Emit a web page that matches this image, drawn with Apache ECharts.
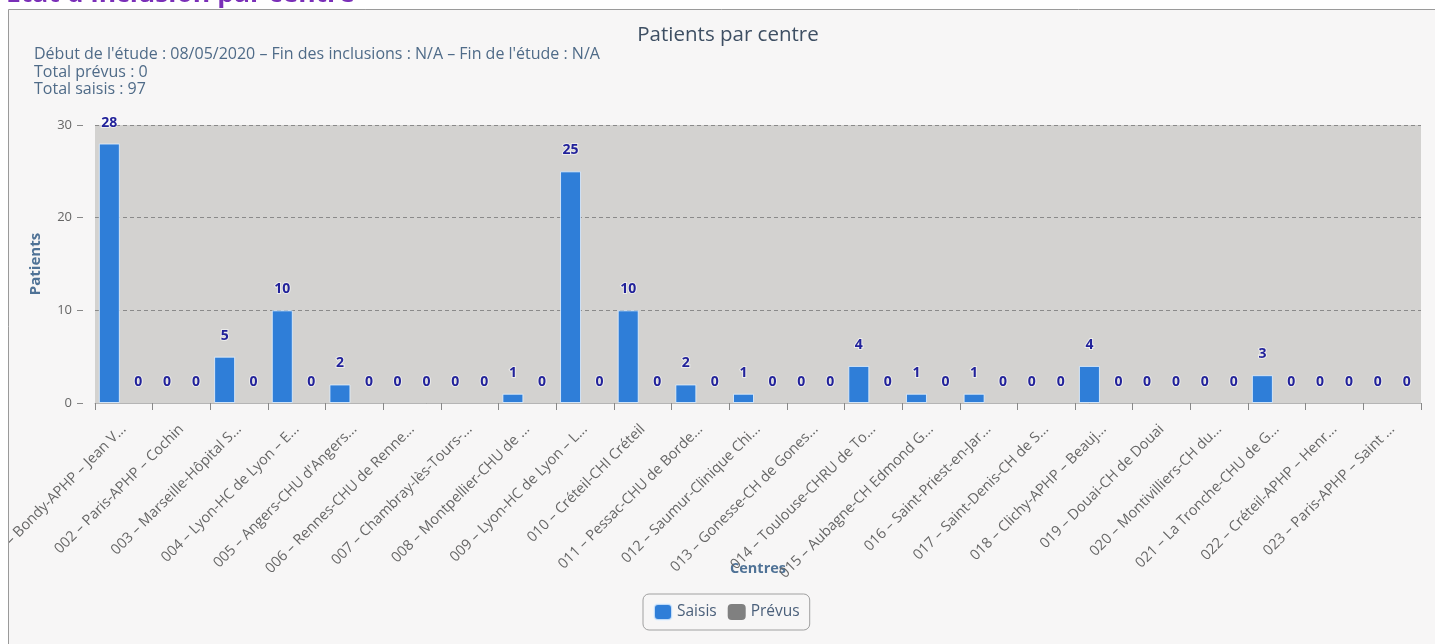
<!DOCTYPE html>
<html>
<head>
<meta charset="utf-8">
<script src="https://cdn.jsdelivr.net/npm/echarts@6/dist/echarts.min.js"></script>
<style>
html,body{margin:0;padding:0;background:#fff;}
#c{width:1435px;height:644px;}
</style>
</head>
<body>
<div id="c"></div>
<script>
const pageHeading = "Etat d'inclusion par centre";
const chartTitle = "Patients par centre";
const infoLines = [
  "Début de l'étude : 08/05/2020 – Fin des inclusions : N/A – Fin de l'étude : N/A",
  "Total prévus : 0",
  "Total saisis : 97"
];
const categories = [
  "001 – Bondy-APHP – Jean V...",
  "002 – Paris-APHP – Cochin",
  "003 – Marseille-Hôpital S...",
  "004 – Lyon-HC de Lyon – E...",
  "005 – Angers-CHU d'Angers...",
  "006 – Rennes-CHU de Renne...",
  "007 – Chambray-lès-Tours-...",
  "008 – Montpellier-CHU de ...",
  "009 – Lyon-HC de Lyon – L...",
  "010 – Créteil-CHI Créteil",
  "011 – Pessac-CHU de Borde...",
  "012 – Saumur-Clinique Chi...",
  "013 – Gonesse-CH de Gones...",
  "014 – Toulouse-CHRU de To...",
  "015 – Aubagne-CH Edmond G...",
  "016 – Saint-Priest-en-Jar...",
  "017 – Saint-Denis-CH de S...",
  "018 – Clichy-APHP – Beauj...",
  "019 – Douai-CH de Douai",
  "020 – Montivilliers-CH du...",
  "021 – La Tronche-CHU de G...",
  "022 – Créteil-APHP – Henr...",
  "023 – Paris-APHP – Saint ..."
];
const saisis = [28, 0, 5, 10, 2, 0, 0, 1, 25, 10, 2, 1, 0, 4, 1, 1, 0, 4, 0, 0, 3, 0, 0];
const prevus = [0, 0, 0, 0, 0, 0, 0, 0, 0, 0, 0, 0, 0, 0, 0, 0, 0, 0, 0, 0, 0, 0, 0];
const yTicks = [0, 10, 20, 30];
const seriesNames = ["Saisis", "Prévus"];
const xName = "Centres";
const yName = "Patients";

const FONT = "'Open Sans', sans-serif";
const chart = echarts.init(document.getElementById('c'), null, {renderer: 'canvas'});

const labelStyle = {
  show: true,
  position: 'top',
  distance: 14,
  color: '#22229a',
  fontWeight: 'bold',
  fontSize: 14,
  fontFamily: FONT,
  textBorderColor: 'rgba(255,255,255,0.55)',
  textBorderWidth: 2
};

// zero-height bars get no border so no stray line is drawn at the baseline
const toItems = arr => arr.map(v => ({value: v, itemStyle: v === 0 ? {borderWidth: 0} : {}}));

chart.setOption({
  backgroundColor: '#f7f6f6',
  animation: false,
  textStyle: {fontFamily: FONT},
  title: [
    {
      text: chartTitle,
      left: 723, top: 20,
      textAlign: 'center',
      textStyle: {fontSize: 20.5, fontWeight: 'normal', color: '#3e4f63', fontFamily: FONT}
    },
    {
      text: infoLines.join('\n'),
      left: 29, top: 41,
      textStyle: {fontSize: 16, fontWeight: 'normal', color: '#4f6b88', lineHeight: 17.5, fontFamily: FONT}
    }
  ],
  graphic: [
    {type: 'rect', z: 100, shape: {x: 0, y: 0, width: 1435, height: 9}, style: {fill: '#ffffff'}, silent: true},
    {type: 'rect', z: 100, shape: {x: 0, y: 0, width: 8, height: 644}, style: {fill: '#ffffff'}, silent: true},
    {type: 'polyline', z: 101, shape: {points: [[8.5, 644], [8.5, 9.5], [1435, 9.5]]}, style: {stroke: '#9a9a9a', lineWidth: 1, fill: null}, silent: true},
    {
      type: 'text', left: 6, top: -19, z: 102,
      style: {text: pageHeading, fill: '#7a2fb8', font: "bold 26.5px 'Open Sans', sans-serif"}
    }
  ],
  legend: {
    data: seriesNames,
    left: 643, top: 594,
    orient: 'horizontal',
    borderColor: '#a0a0a0', borderWidth: 1, borderRadius: 6,
    padding: [9, 10, 9, 10],
    itemWidth: 18, itemHeight: 16, itemGap: 11,
    icon: 'roundRect',
    textStyle: {fontSize: 15.5, color: '#4a5f7a', fontFamily: FONT}
  },
  grid: {
    left: 95, right: 14, top: 125, bottom: 241,
    show: true, backgroundColor: '#d3d2d0', borderWidth: 0,
    containLabel: false,
    outerBoundsMode: 'none'
  },
  xAxis: {
    type: 'category',
    data: categories,
    offset: 12,
    name: xName,
    nameLocation: 'middle',
    nameGap: 146,
    nameMoveOverlap: false,
    nameTextStyle: {fontWeight: 'bold', fontSize: 14.5, color: '#4f7296', fontFamily: FONT},
    axisLine: {show: true, lineStyle: {color: '#b5b5b5', width: 1}},
    axisTick: {show: true, length: 7, lineStyle: {color: '#888'}},
    axisLabel: {interval: 0, rotate: 45, margin: 12, fontSize: 14.5, color: '#666', fontFamily: FONT},
    splitLine: {show: false}
  },
  yAxis: {
    type: 'value',
    min: 0, max: 30, interval: 10,
    offset: 12,
    name: yName,
    nameLocation: 'middle',
    nameGap: 40,
    nameRotate: 90,
    nameTextStyle: {fontWeight: 'bold', fontSize: 15, color: '#4f7296', fontFamily: FONT},
    axisLine: {show: false},
    axisTick: {show: true, length: 6, lineStyle: {color: '#888'}},
    axisLabel: {
      margin: 11, fontSize: 13, color: '#666', fontFamily: FONT,
      formatter: v => yTicks.includes(v) ? String(v) : ''
    },
    splitLine: {show: true, lineStyle: {color: '#8a8a8a', type: [4, 3], width: 1}}
  },
  series: [
    {
      name: seriesNames[0], type: 'bar', data: toItems(saisis),
      barWidth: 21, barGap: '38%',
      itemStyle: {color: '#2f7ed8', borderColor: 'rgba(230,242,255,0.8)', borderWidth: 1},
      label: labelStyle
    },
    {
      name: seriesNames[1], type: 'bar', data: toItems(prevus),
      barWidth: 21,
      itemStyle: {color: '#808080'},
      label: labelStyle
    }
  ]
});
</script>
</body>
</html>
